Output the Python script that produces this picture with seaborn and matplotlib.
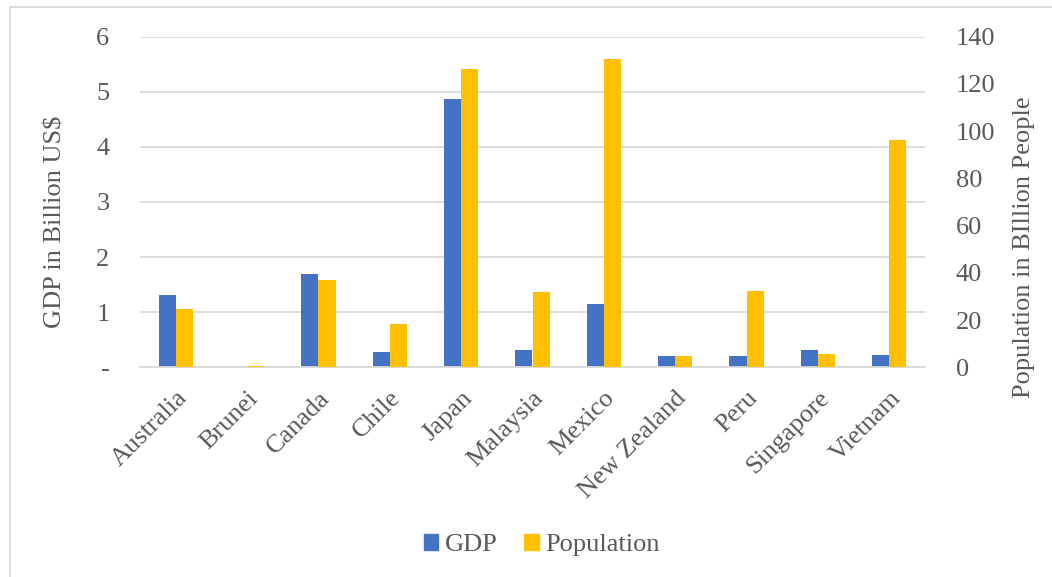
import pandas as pd
import matplotlib
matplotlib.use('Agg')
import matplotlib.pyplot as plt
import matplotlib.patches as mpatches
from matplotlib.ticker import FuncFormatter
import seaborn as sns

countries = ['Australia', 'Brunei', 'Canada', 'Chile', 'Japan', 'Malaysia',
             'Mexico', 'New Zealand', 'Peru', 'Singapore', 'Vietnam']
gdp = [1.31, 0.013, 1.69, 0.27, 4.86, 0.31, 1.14, 0.20, 0.20, 0.31, 0.22]
population = [24.7, 0.4, 37.0, 18.2, 126.2, 31.9, 130.5, 4.7, 32.4, 5.8, 96.2]
series = ['GDP', 'Population']
colors = {'GDP': '#4472C4', 'Population': '#FFC000'}

df = pd.DataFrame({
    'country': countries * 2,
    'series': ['GDP'] * len(countries) + ['Population'] * len(countries),
    'value': gdp + population,
})

sns.set_style('white')
plt.rcParams['font.family'] = ['Liberation Serif', 'DejaVu Serif']
text_gray = '#595959'
grid_gray = '#d9d9d9'
fs = 19

fig = plt.figure(figsize=(10.52, 5.77), dpi=100)
ax = fig.add_axes([140 / 1052, 1 - 367.3 / 577, 785 / 1052, 330.7 / 577])
ax2 = ax.twinx()

# both series on both axes so the dodge is shared; hide the one that belongs to the other scale
for a in (ax, ax2):
    sns.barplot(data=df, x='country', y='value', hue='series', hue_order=series,
                palette=colors, order=countries, width=0.48, saturation=1,
                linewidth=0, legend=False, ax=a)
for bar in ax.containers[1]:
    bar.set_visible(False)
for bar in ax2.containers[0]:
    bar.set_visible(False)

ax.set_ylim(0, 6)
ax.set_yticks(range(0, 7))
ax.yaxis.set_major_formatter(FuncFormatter(lambda v, p: '-' if v == 0 else f'{int(v)}'))
ax2.set_ylim(0, 140)
ax2.set_yticks(range(0, 141, 20))
ax.set_xlim(-0.5, len(countries) - 0.5)

ax.yaxis.grid(True, color=grid_gray, linewidth=1.3)
ax.set_axisbelow(True)
for a in (ax, ax2):
    for s in a.spines.values():
        s.set_visible(False)
ax.spines['bottom'].set_visible(True)
ax.spines['bottom'].set_color(grid_gray)
ax.spines['bottom'].set_linewidth(1.3)

ax.tick_params(axis='y', length=0, pad=22, labelsize=fs, labelcolor=text_gray)
ax2.tick_params(axis='y', length=0, pad=22, labelsize=fs, labelcolor=text_gray)
ax.tick_params(axis='x', length=0, pad=14, labelsize=fs, labelcolor=text_gray)
ax.set_xlabel('')
ax2.set_xlabel('')
plt.setp(ax.get_xticklabels(), rotation=45, ha='right', rotation_mode='anchor')

ax.set_ylabel('GDP in Billion US\\$', fontsize=fs, color=text_gray)
ax.yaxis.set_label_coords(-0.093, 0.44)
ax2.set_ylabel('Population in BIllion People', fontsize=fs, color=text_gray)
ax2.yaxis.set_label_coords(1.112, 0.364)

handles = [mpatches.Patch(color=colors[s], label=s) for s in series]
fig.legend(handles=handles, loc='center', bbox_to_anchor=(0.515, 0.055), ncol=2,
           frameon=False, fontsize=fs, labelcolor=text_gray, handlelength=0.55,
           handleheight=0.55, handletextpad=0.25, columnspacing=1.0)

fig.patches.append(mpatches.Rectangle((10 / 1052, -0.1), 1.1, 1.088, transform=fig.transFigure,
                                      fill=False, edgecolor=grid_gray, linewidth=1.3))

fig.savefig('out.png', dpi=100)
